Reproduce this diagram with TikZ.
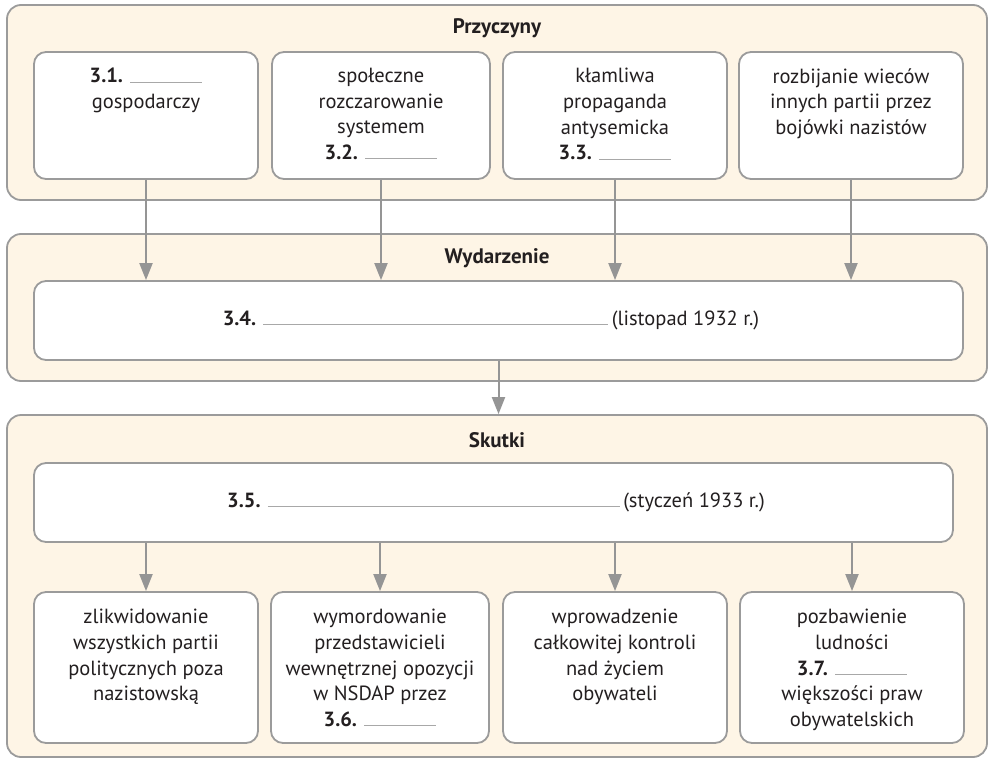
\documentclass[tikz,border=0pt]{standalone}
\usepackage{fontspec}
\setmainfont{PT Sans}
\usetikzlibrary{arrows.meta}
\definecolor{cream}{HTML}{FEF5E6}
\definecolor{edge}{HTML}{9B9B9B}
\definecolor{arr}{HTML}{959595}
\definecolor{ink}{HTML}{231F20}
\definecolor{rulegray}{HTML}{A8A8A8}
\newcommand{\blankline}[1]{\textcolor{rulegray}{\rule{#1}{1pt}}}
\begin{document}
\begin{tikzpicture}[x=1pt,y=-1pt,
  font=\fontsize{20.5}{25.6}\selectfont,
  outer/.style={draw=edge, line width=1.8pt, fill=cream, rounded corners=14pt, inner sep=0pt},
  box/.style={draw=edge, line width=1.8pt, fill=white, rounded corners=12pt, inner sep=0pt},
  txt/.style={anchor=north, align=center, inner sep=0pt, text=ink},
  onel/.style={inner sep=0pt, text=ink},
  head/.style={font=\fontsize{21}{23}\selectfont\bfseries, inner sep=0pt, text=ink},
  conn/.style={draw=arr, line width=2pt, -{Triangle[length=17pt,width=13pt]}}]
\useasboundingbox (0,0) rectangle (991,760);
% outer panels
\node[outer, minimum width=980pt, minimum height=195pt] (oc) at (497,102.5) {};
\node[outer, minimum width=980pt, minimum height=147pt] (oe) at (497,307.5) {};
\node[outer, minimum width=980pt, minimum height=342pt] (os) at (497,586) {};
\node[head] (tc) at (497,28) {Przyczyny};
\node[head] (te) at (497,258) {Wydarzenie};
\node[head] (ts) at (497,440) {Skutki};
% causes
\node[box, minimum width=224pt, minimum height=127pt] (c1) at (146,115.5) {};
\node[box, minimum width=218pt, minimum height=127pt] (c2) at (381,115.5) {};
\node[box, minimum width=224pt, minimum height=127pt] (c3) at (615,115.5) {};
\node[box, minimum width=224pt, minimum height=127pt] (c4) at (851,115.5) {};
\node[txt] (c1t) at ([yshift=-17pt]c1.north) {\textbf{3.1.} \blankline{72pt}\\gospodarczy};
\node[txt] (c2t) at ([yshift=-17pt]c2.north) {społeczne\\rozczarowanie\\systemem\\\textbf{3.2.} \blankline{72pt}};
\node[txt] (c3t) at ([yshift=-17pt]c3.north) {kłamliwa\\propaganda\\antysemicka\\\textbf{3.3.} \blankline{72pt}};
\node[txt] (c4t) at ([yshift=-17pt]c4.north) {rozbijanie wieców\\innych partii przez\\bojówki nazistów};
% event
\node[box, minimum width=929pt, minimum height=79pt] (ev) at (498.5,320.5) {};
\node[onel] (evt) at (491,320) {\textbf{3.4.} \blankline{345pt}\,(listopad 1932 r.)};
% effects
\node[box, minimum width=919pt, minimum height=79pt] (e5) at (493.5,502.5) {};
\node[onel] (e5t) at (496,502) {\textbf{3.5.} \blankline{352pt}\,(styczeń 1933 r.)};
\node[box, minimum width=224pt, minimum height=151pt] (k1) at (146,667.5) {};
\node[box, minimum width=218pt, minimum height=151pt] (k2) at (380,667.5) {};
\node[box, minimum width=224pt, minimum height=151pt] (k3) at (615,667.5) {};
\node[box, minimum width=224pt, minimum height=151pt] (k4) at (852,667.5) {};
\node[txt] (k1t) at ([yshift=-18pt]k1.north) {zlikwidowanie\\wszystkich partii\\politycznych poza\\nazistowską};
\node[txt] (k2t) at ([yshift=-18pt]k2.north) {wymordowanie\\przedstawicieli\\wewnętrznej opozycji\\w NSDAP przez\\\textbf{3.6.} \blankline{72pt}};
\node[txt] (k3t) at ([yshift=-18pt]k3.north) {wprowadzenie\\całkowitej kontroli\\nad życiem\\obywateli};
\node[txt] (k4t) at ([yshift=-18pt]k4.north) {pozbawienie\\ludności\\\textbf{3.7.} \blankline{72pt}\\większości praw\\obywatelskich};
% connectors
\foreach \c in {c1,c2,c3,c4}{
  \draw[conn] (\c.south) -- (\c.south |- ev.north);
}
\draw[conn] (ev.south) -- (ev.south |- os.north);
\foreach \k in {k1,k2,k3,k4}{
  \draw[conn] (\k.north |- e5.south) -- (\k.north);
}
\end{tikzpicture}
\end{document}
